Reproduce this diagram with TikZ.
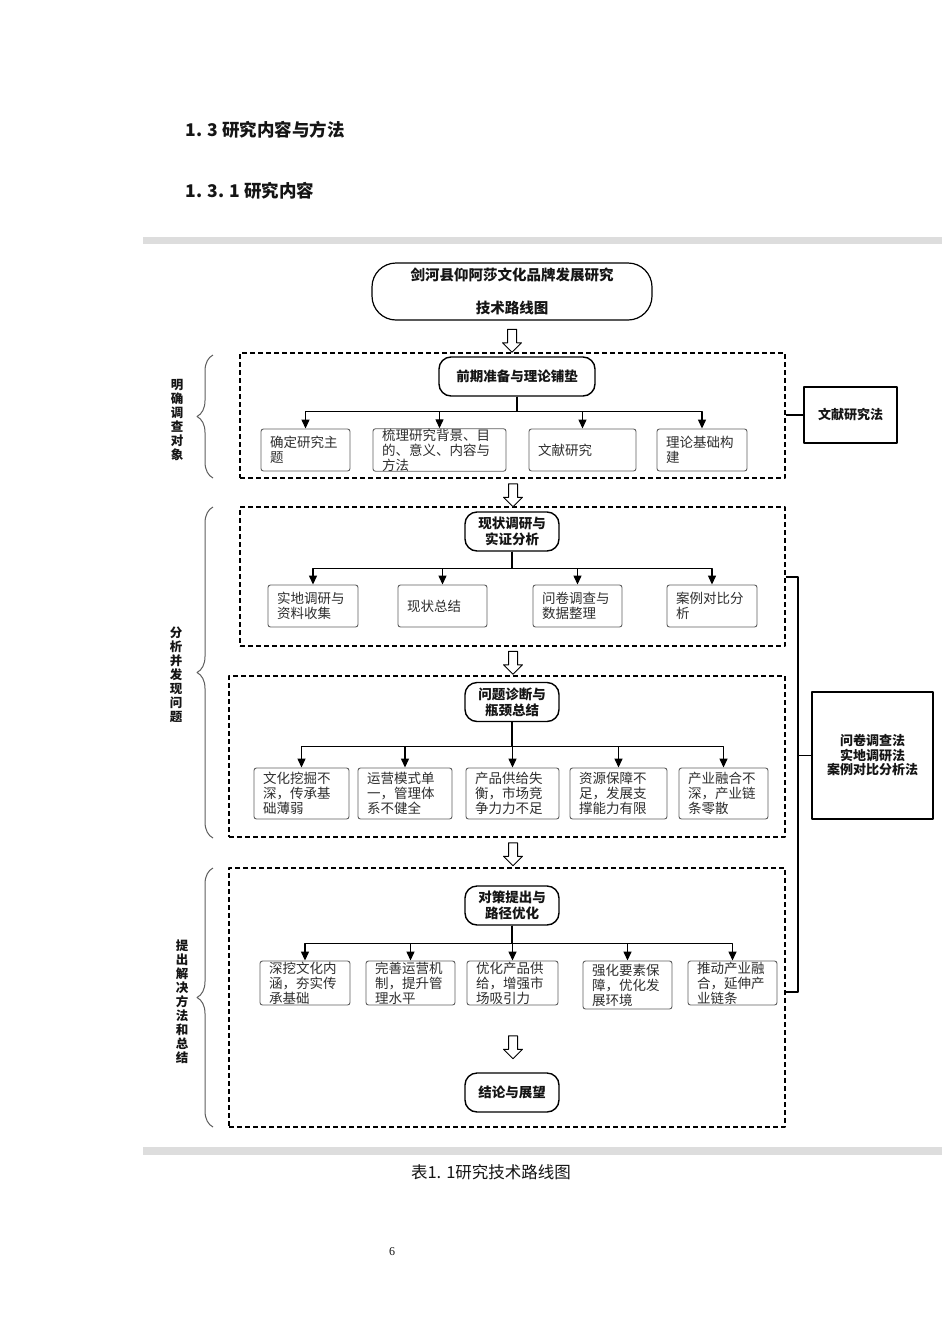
\documentclass[tikz,border=0pt]{standalone}
\usepackage{fontspec}
\setmainfont{Noto Sans CJK SC}
\newfontfamily\pagefont{Liberation Serif}
\usepackage{tikz}
\usetikzlibrary{arrows.meta,decorations.pathreplacing,shapes.arrows}
\definecolor{rmInk}{HTML}{151515}
\definecolor{rmGrey}{HTML}{5E5E5E}
\definecolor{rmText}{HTML}{2E2E2E}
\definecolor{rmBand}{HTML}{DDDDDD}
\tikzset{
  rm diagram/.style={x=1pt, y=-1pt, text=rmInk, line join=round},
  rm title/.style={draw, line width=1.2pt, rounded corners=24pt,
    minimum width=280pt, minimum height=57pt, align=center,
    font=\bfseries\fontsize{14.5}{33}\selectfont},
  rm stage/.style={draw, line width=1.4pt, rounded corners=12pt,
    minimum width=94pt, minimum height=39pt, align=center, inner sep=3pt,
    font=\bfseries\fontsize{13.5}{16}\selectfont},
  rm item/.style={draw=rmGrey, line width=0.9pt, rounded corners=2.5pt,
    align=left, inner xsep=9pt, inner ysep=0pt, text=rmText, text width=#1,
    font=\fontsize{13.5}{15}\selectfont},
  rm method/.style={draw, line width=1.3pt, align=center,
    font=\bfseries\fontsize{13}{14.5}\selectfont},
  rm frame/.style={draw, line width=1.2pt, dash pattern=on 5pt off 3pt},
  rm arrow/.style={-{Triangle[length=9pt,width=8pt]}, line width=1.3pt},
  rm line/.style={line width=1.3pt},
  rm flow/.style={single arrow, draw, line width=1pt, fill=white, rotate=-90,
    minimum height=23pt, minimum width=18pt, single arrow head extend=5pt,
    inner xsep=0pt, inner ysep=4pt},
  rm brace/.style={decorate, decoration={brace, amplitude=16pt},
    draw=rmGrey, line width=1pt},
  rm side/.style={align=center, font=\bfseries\fontsize{12.5}{14}\selectfont},
  rm heading/.style={anchor=west, font=\bfseries\fontsize{17.5}{20}\selectfont},
  rm caption/.style={font=\fontsize{16.5}{18}\selectfont}
}
\begin{document}
\begin{tikzpicture}[rm diagram]
\useasboundingbox (0,0) rectangle (950,1344);
\fill[white] (0,0) rectangle (950,1344);
\node[rm heading] (sec) at (182,130) {1. 3 研究内容与方法};
\node[rm heading] (subsec) at (182,191) {1. 3. 1 研究内容};
\fill[rmBand] (143,237) rectangle (942,244);
\fill[rmBand] (143,1147) rectangle (942,1155);

\node[rm frame,minimum width=545pt,minimum height=125pt] (frame1) at (512.5,415.5) {};
\node[rm frame,minimum width=545pt,minimum height=139pt] (frame2) at (512.5,576.5) {};
\node[rm frame,minimum width=556pt,minimum height=161pt] (frame3) at (507,756.5) {};
\node[rm frame,minimum width=556pt,minimum height=259pt] (frame4) at (507,997.5) {};

\node[rm title] (title) at (512,291.5) {剑河县仰阿莎文化品牌发展研究\\技术路线图};
\node[rm flow] (flow1) at (512,338.5) {};

\node[rm stage,minimum width=156pt] (prep) at (517,376.5) {前期准备与理论铺垫};
\node[rm item=71pt,minimum height=42pt] (topic) at (305.5,450) {确定研究主\\题};
\node[rm item=115pt,minimum height=42pt] (review) at (439.5,450) {梳理研究背景、目\\的、意义、内容与\\方法};
\node[rm item=89pt,minimum height=42pt] (lit) at (582.5,450) {文献研究};
\node[rm item=72pt,minimum height=42pt] (theory) at (702,450) {理论基础构\\建};
\foreach \n in {topic,review,lit,theory}
  \draw[rm arrow] (prep.south) -- ++(0,15) -| (\n.north);
\node[rm method,minimum width=93pt,minimum height=56pt] (litmethod) at (850.5,415) {文献研究法};
\draw[rm line] (frame1.east |- litmethod.west) -- (litmethod.west);

\node[rm flow] (flow2) at (513,493) {};

\node[rm stage] (status) at (512,531.5) {现状调研与\\实证分析};
\node[rm item=72pt,minimum height=42pt] (field) at (313,606) {实地调研与\\资料收集};
\node[rm item=71pt,minimum height=42pt] (summary) at (442.5,606) {现状总结};
\node[rm item=71pt,minimum height=42pt] (quest) at (577.5,606) {问卷调查与\\数据整理};
\node[rm item=72pt,minimum height=42pt] (cases) at (712,606) {案例对比分\\析};
\foreach \n in {field,summary,quest,cases}
  \draw[rm arrow] (status.south) -- ++(0,17) -| (\n.north);

\node[rm flow] (flow3) at (513,660.5) {};

\node[rm stage] (diag) at (512,702) {问题诊断与\\瓶颈总结};
\node[rm item=77pt,minimum height=51pt] (p1) at (301.5,793.5) {文化挖掘不\\深，传承基\\础薄弱};
\node[rm item=76pt,minimum height=51pt] (p2) at (405,793.5) {运营模式单\\一，管理体\\系不健全};
\node[rm item=75pt,minimum height=51pt] (p3) at (512.5,793.5) {产品供给失\\衡，市场竞\\争力力不足};
\node[rm item=79pt,minimum height=51pt] (p4) at (618.5,793.5) {资源保障不\\足，发展支\\撑能力有限};
\node[rm item=71pt,minimum height=51pt] (p5) at (723.5,793.5) {产业融合不\\深，产业链\\条零散};
\foreach \n in {p1,p2,p3,p4,p5}
  \draw[rm arrow] (diag.south) -- ++(0,24) -| (\n.north);

\node[rm flow] (flow4) at (513,852) {};

\node[rm stage] (plan) at (512,905.5) {对策提出与\\路径优化};
\node[rm item=72pt,minimum height=44pt] (s1) at (305,983) {深挖文化内\\涵，夯实传\\承基础};
\node[rm item=71pt,minimum height=44pt] (s2) at (410.5,983) {完善运营机\\制，提升管\\理水平};
\node[rm item=73pt,minimum height=44pt] (s3) at (512.5,983) {优化产品供\\给，增强市\\场吸引力};
\node[rm item=71pt,minimum height=48pt] (s4) at (627.5,985) {强化要素保\\障，优化发\\展环境};
\node[rm item=71pt,minimum height=44pt] (s5) at (732.5,983) {推动产业融\\合，延伸产\\业链条};
\foreach \n in {s1,s2,s3,s4,s5}
  \draw[rm arrow] (plan.south) -- ++(0,18) -| (\n.north);

\node[rm flow] (flow5) at (513,1045) {};
\node[rm stage] (outlook) at (512,1092.5) {结论与展望};

\node[rm method,minimum width=121pt,minimum height=127pt] (fieldmethod) at (872.5,755.5) {问卷调查法\\实地调研法\\案例对比分析法};
\coordinate (rail top) at (798,577);
\coordinate (rail bot) at (798,992);
\draw[rm line] (frame2.east |- rail top) -- (rail top) -- (rail bot) -- (frame4.east |- rail bot);
\draw[rm line] (rail top |- fieldmethod.west) -- (fieldmethod.west);

\draw[rm brace] (213,478) -- (213,355);
\draw[rm brace] (213,838) -- (213,507);
\draw[rm brace] (213,1127) -- (213,868);
\node[rm side] (side1) at (177,420) {明\\确\\调\\查\\对\\象};
\node[rm side] (side2) at (176,675) {分\\析\\并\\发\\现\\问\\题};
\node[rm side] (side3) at (182,1002) {提\\出\\解\\决\\方\\法\\和\\总\\结};

\node[rm caption] (cap) at (491,1172) {表1. 1研究技术路线图};
\node[font=\pagefont\fontsize{12}{14}\selectfont] (pageno) at (392,1252) {6};
\end{tikzpicture}
\end{document}
